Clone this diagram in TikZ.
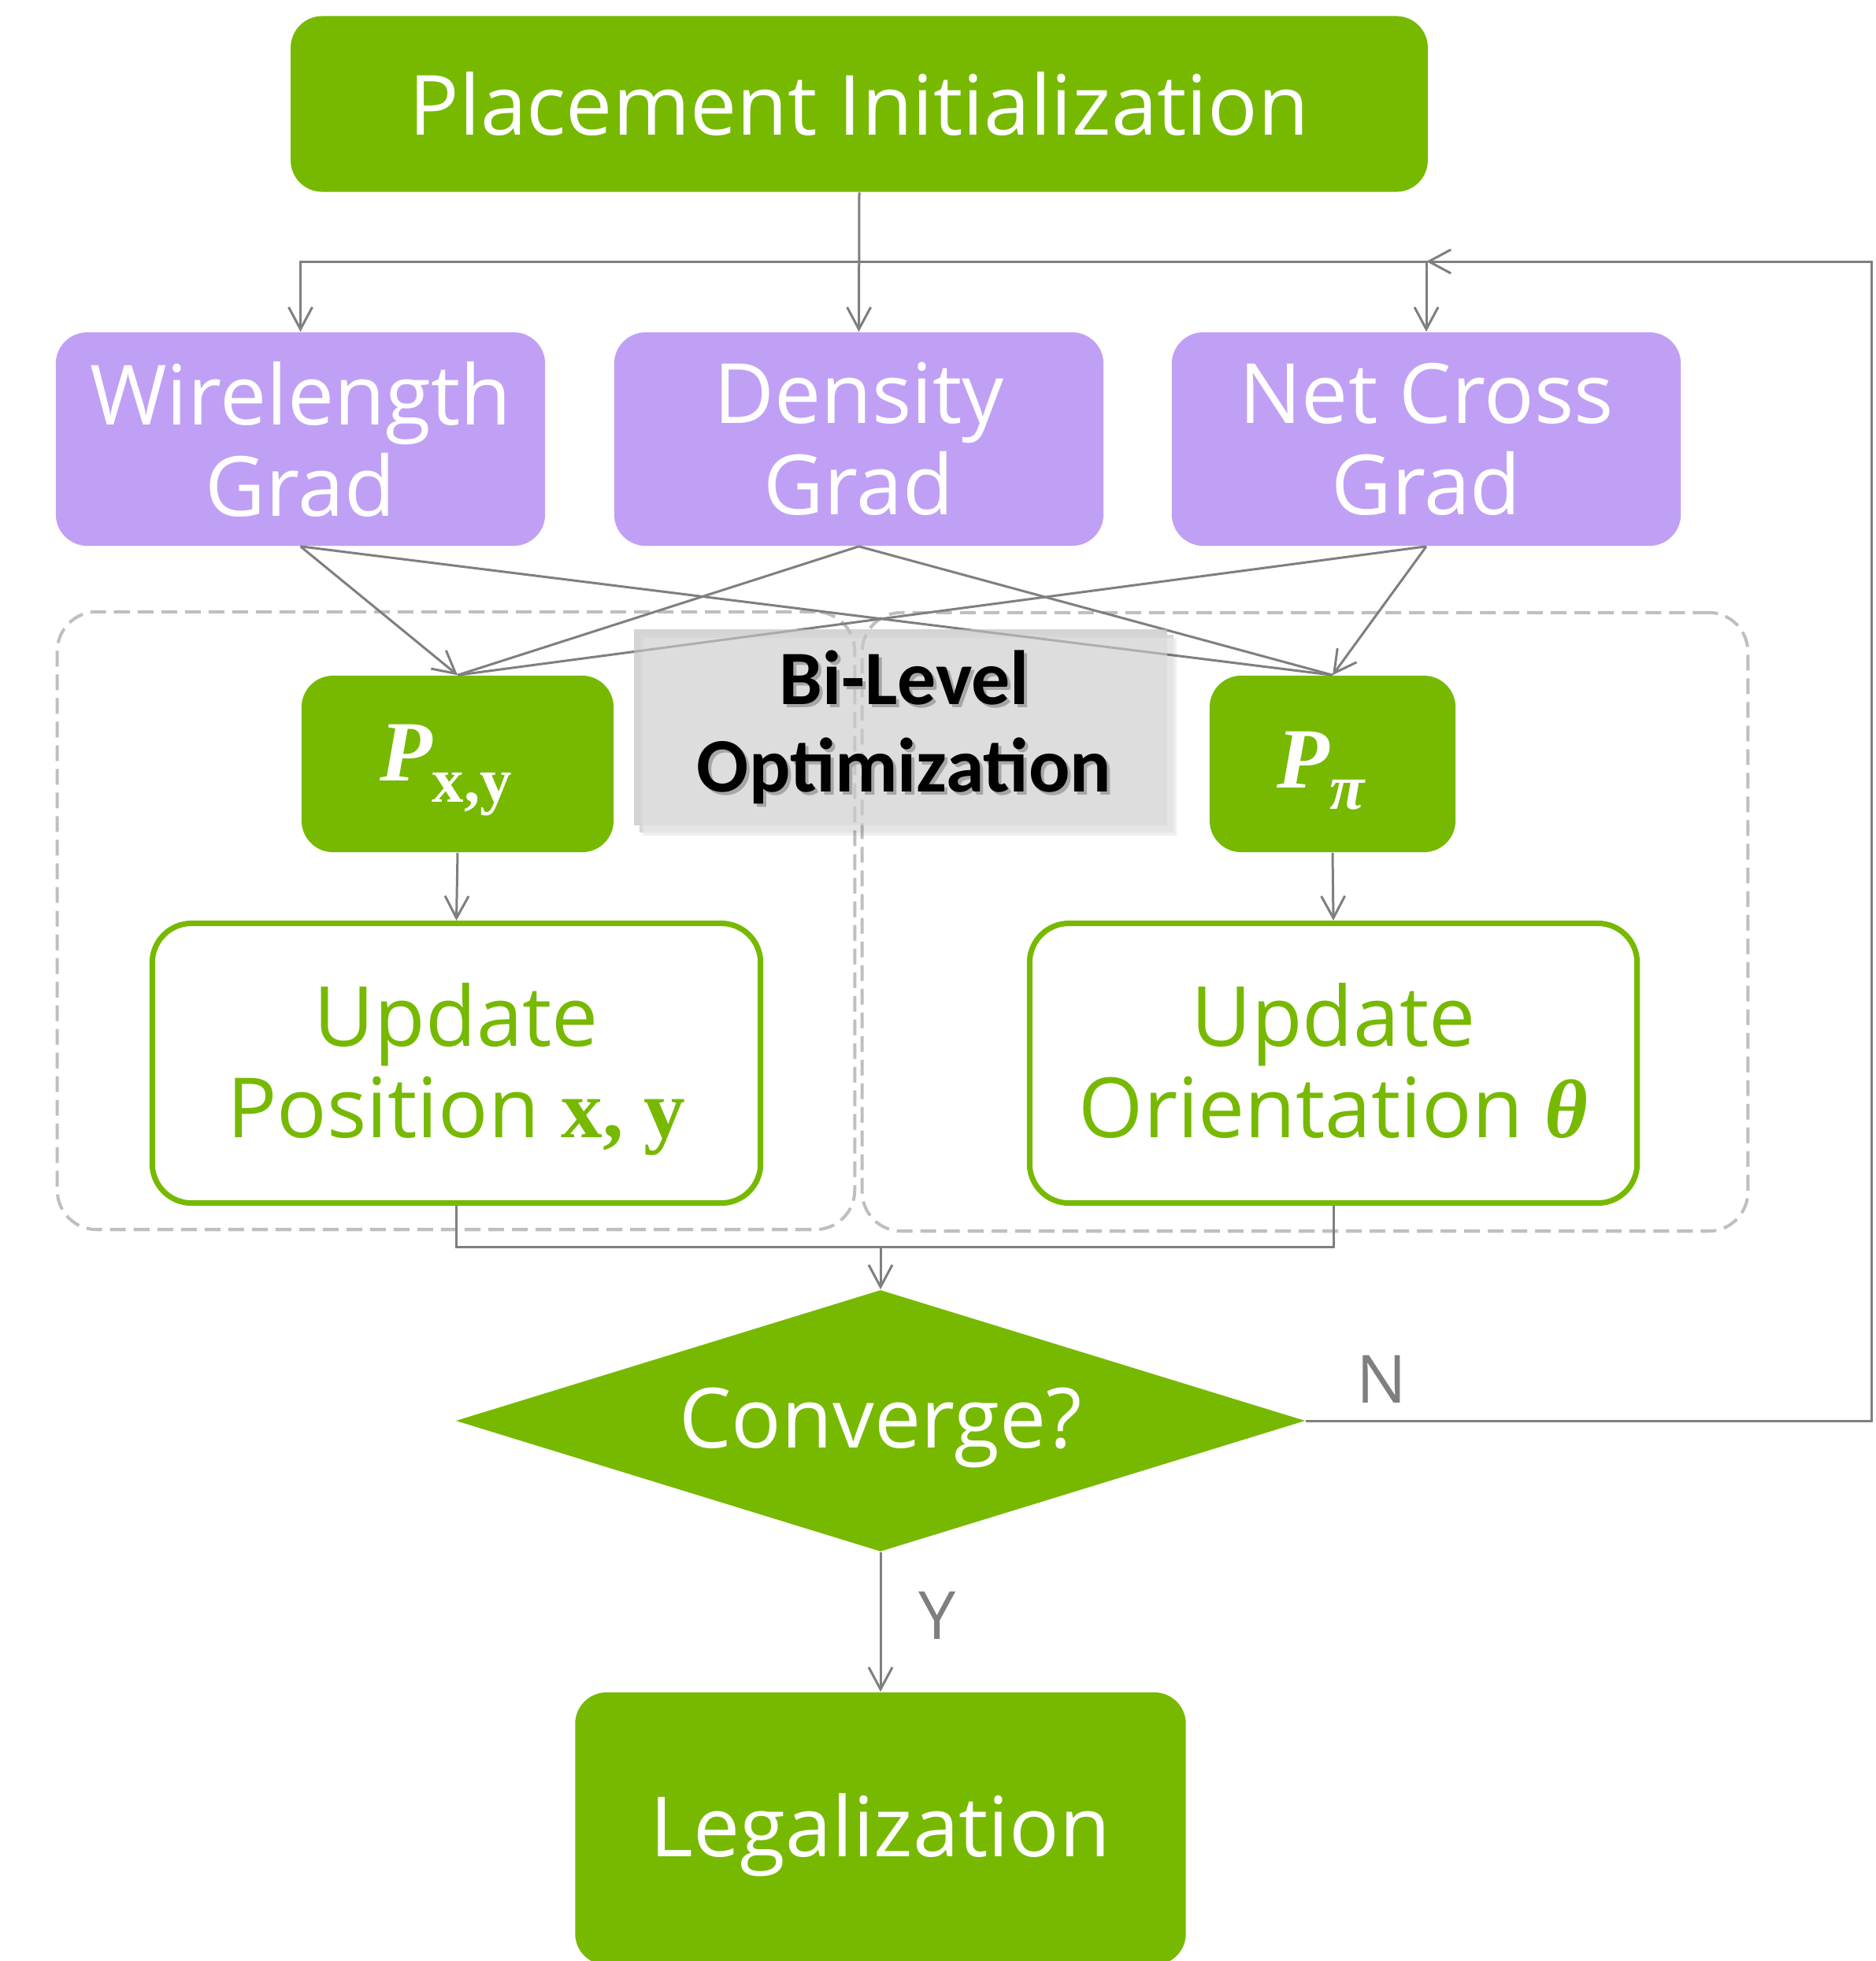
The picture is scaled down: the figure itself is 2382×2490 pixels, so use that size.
\documentclass[tikz,border=0pt]{standalone}
\usepackage{fontspec}
\setmainfont{Open Sans}
\newfontfamily\calib{Carlito}
\newfontfamily\serif{Liberation Serif}
\usetikzlibrary{arrows.meta,shapes.geometric}
\definecolor{ngreen}{RGB}{118,185,0}
\definecolor{npurple}{RGB}{192,160,245}
\definecolor{lgray}{RGB}{127,127,127}
\definecolor{dgray}{RGB}{191,191,191}
\definecolor{blfill}{RGB}{202,202,202}
\newcommand{\mathP}[1]{\rule{0pt}{25pt}{\serif\bfseries\itshape\fontsize{31pt}{33pt}\selectfont P}\raisebox{-0.27cm}{#1}\kern0.3cm}
\newcommand{\toprule}{\rule{0pt}{27.4pt}}
\begin{document}
\begin{tikzpicture}[x=0.01cm,y=-0.01cm,
 big/.style={font=\fontsize{30pt}{33pt}\selectfont, align=center, inner sep=0pt},
 greenbox/.style={big, fill=ngreen, text=white, rounded corners=0.4cm},
 gradbox/.style={big, fill=npurple, text=white, rounded corners=0.4cm},
 outbox/.style={big, draw=ngreen, line width=0.07cm, fill=white, text=ngreen, rounded corners=0.5cm},
 conn/.style={draw=lgray, line width=0.03cm},
 arr/.style={conn, -{Straight Barb[length=0.28cm,width=0.3cm]}},
 dbox/.style={draw=dgray, line width=0.04cm, dash pattern=on 0.2cm off 0.1cm, rounded corners=0.5cm, inner sep=0pt},
 lab/.style={font=\fontsize{24pt}{26pt}\selectfont, text=lgray, inner sep=0pt},
 bltext/.style={font=\calib\bfseries\fontsize{27.8pt}{31.6pt}\selectfont, align=center, inner sep=0pt}]
\useasboundingbox (0,0) rectangle (2382,2490);

% dashed groups
\node[dbox, minimum width=10.12cm, minimum height=7.84cm] (grp1) at (579,1169) {};
\node[dbox, minimum width=11.24cm, minimum height=7.85cm] (grp2) at (1657,1170.5) {};

% nodes
\node[greenbox, minimum width=14.43cm, minimum height=2.23cm] (init) at (1091,132) {Placement Initialization};
\node[gradbox, minimum width=6.21cm, minimum height=2.71cm] (wl) at (381.5,557.5) {Wirelength\\Grad};
\node[gradbox, minimum width=6.21cm, minimum height=2.71cm] (den) at (1090.5,557.5) {Density\\Grad};
\node[gradbox, minimum width=6.46cm, minimum height=2.71cm] (nc) at (1811,557.5) {Net Cross\\Grad};
\node[greenbox, minimum width=3.96cm, minimum height=2.24cm] (pxy) at (581,970) {\mathP{\serif\bfseries\fontsize{23pt}{24pt}\selectfont x,y}};
\node[greenbox, minimum width=3.12cm, minimum height=2.24cm] (ppi) at (1692,970) {\mathP{\serif\bfseries\itshape\fontsize{23pt}{24pt}\selectfont π}};
\node[outbox, minimum width=7.72cm, minimum height=3.55cm] (upd1) at (579.5,1350) {\toprule Update\\Position {\serif\bfseries\fontsize{30pt}{33pt}\selectfont x, y}};
\node[outbox, minimum width=7.71cm, minimum height=3.55cm] (upd2) at (1693,1350) {\toprule Update\\Orientation {\serif\bfseries\itshape\fontsize{30pt}{33pt}\selectfont θ\vphantom{y}}};
\node[big, diamond, fill=ngreen, text=white, aspect=3.25, minimum width=10.78cm, minimum height=3.32cm] (conv) at (1118,1804) {\rule{0pt}{27pt}Converge?};
\node[greenbox, minimum width=7.75cm, minimum height=3.46cm] (legal) at (1118,2322) {\toprule Legalization};

% connectors top
\coordinate (j) at (1090.5,332);
\coordinate (fbin) at (1811,332);
\coordinate (fbr) at (2376,332);
\draw[arr] (init.south) -- (den.north);
\draw[arr] (j) -| (wl.north);
\draw[arr] (j) -| (nc.north);
\draw[arr] (conv.east) -| (fbr) -- (fbin);

% cross connectors
\draw[arr] (wl.south) -- (pxy.north);
\draw[conn] (wl.south) -- (ppi.north);
\draw[conn] (den.south) -- (pxy.north);
\draw[conn] (den.south) -- (ppi.north);
\draw[conn] (nc.south) -- (pxy.north);
\draw[arr] (nc.south) -- (ppi.north);

\draw[arr] (pxy.south) -- (upd1.north);
\draw[arr] (ppi.south) -- (upd2.north);

\coordinate (m) at (1118,1583);
\draw[conn] (upd1.south) |- (m);
\draw[conn] (upd2.south) |- (m);
\draw[arr] (m) -- (conv.north);
\draw[arr] (conv.south) -- (legal.north);

\node[lab] (nlab) at (1754,1751) {N};
\node[lab] (ylab) at (1190,2051) {Y};

% Bi-Level box
\fill[black, opacity=0.10, even odd rule] (812,806) rectangle (1490,1057) (805,799) rectangle (1482,1048);
\fill[black, opacity=0.06, even odd rule] (816,810) rectangle (1494,1061) (812,806) rectangle (1490,1057);
\node[fill=blfill, fill opacity=0.64, minimum width=6.77cm, minimum height=2.49cm, inner sep=0pt] (bl) at (1143.5,923.5) {};
\node[bltext, text=black!35] (blsh) at (1152,927) {Bi-Level\\Optimization};
\node[bltext, text=black] (bltxt) at (1148,923) {Bi-Level\\Optimization};
\end{tikzpicture}
\end{document}
